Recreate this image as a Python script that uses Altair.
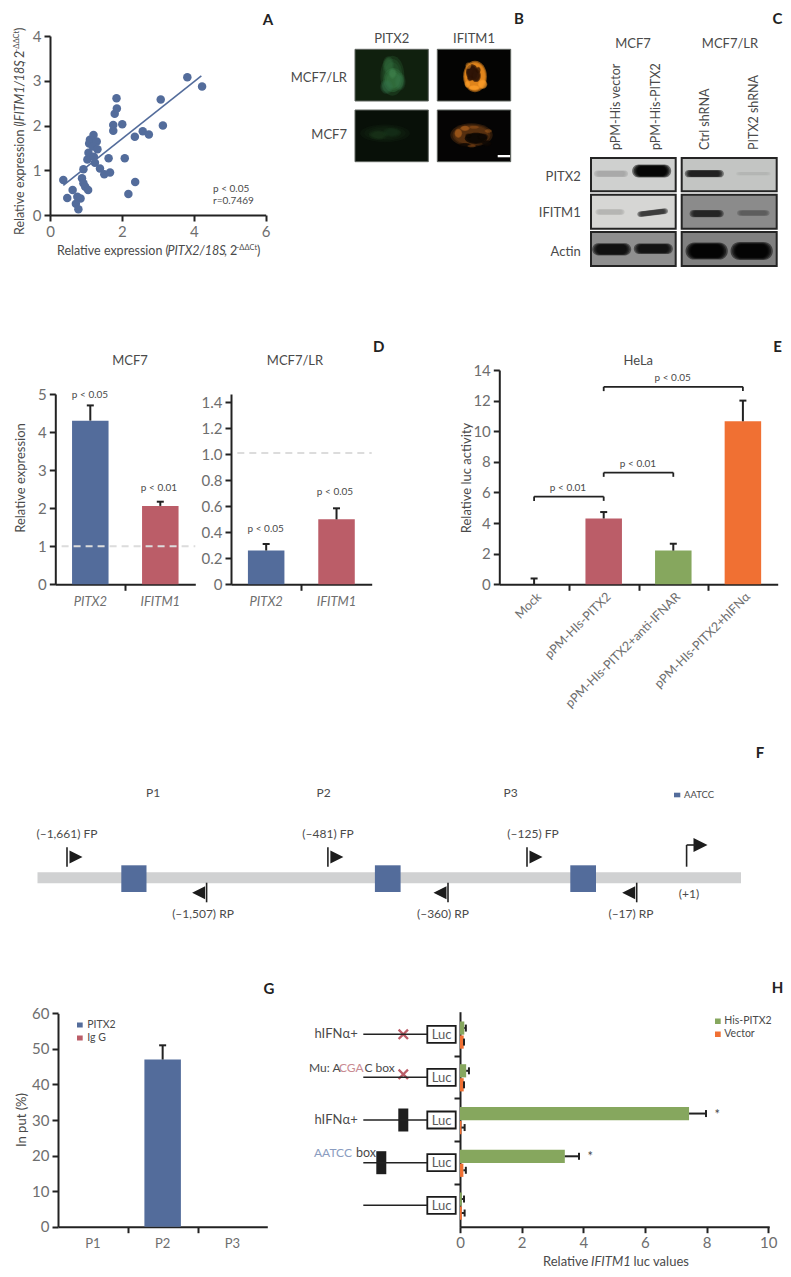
import altair as alt
import pandas as pd

# ---------- values ----------
A_X = [.37,.48,.63,.76,.85,.72,.79,.89,.93,.98,1.06,.93,1.04,1.07,1.11,1.09,1.21,1.30,1.19,1.32,1.22,1.25,1.39,1.51,1.67,1.63,1.76,1.76,1.80,1.86,1.85,2.01,2.08,2.18,2.37,2.36,2.58,2.75,3.08,3.14,3.82,4.23]
A_Y = [.78,.38,.56,.41,.37,.25,.13,.82,.71,.63,.56,1.02,1.24,1.39,1.68,1.60,1.79,1.64,1.53,1.47,1.30,1.17,1.04,.91,.95,1.27,1.88,2.01,2.26,2.38,2.61,2.03,1.27,.47,.74,1.75,1.87,1.80,2.58,2.00,3.08,2.87]
A_FIT_X = [.37, 4.21]
A_FIT_Y = [.66, 3.11]

D_CATS = ["PITX2", "IFITM1"]
D1_VAL = [4.3, 2.06]
D1_ERR = [4.7, 2.17]
D2_VAL = [.26, .50]
D2_ERR = [.31, .585]

E_CATS = ["Mock", "pPM-HIs-PITX2", "pPM-HIs-PITX2+anti-IFNAR", "pPM-HIs-PITX2+hIFNα"]
E_VAL = [0, 4.3, 2.2, 10.65]
E_ERR = [.38, 4.72, 2.65, 12.0]

G_CATS = ["P1", "P2", "P3"]
G_VAL = [0, 47, 0]
G_ERR = [0, 51, 0]

H_ROWS = ["r1", "r2", "r3", "r4", "r5"]
H_GREEN = [.14, .2, 7.43, 3.4, .06]
H_GREEN_ERR = [.19, .29, 7.98, 3.86, .13]
H_ORANGE = [.12, .12, .05, .11, .06]
H_ORANGE_ERR = [.13, .13, .15, .19, .15]

# ---------- style ----------
FONT = "Lato, Roboto, sans-serif"
INK = "#222222"
TXT = "#4a4a4a"
LABEL = "#6e6e6e"
BLUE = "#536c9b"
RED = "#bb5d68"
GREEN = "#86a75e"
ORANGE = "#f07033"
W, H = 775, 1261

layers = []

def qs(dom, rng, **kw):
    return alt.Scale(domain=dom, range=[r - 8 for r in rng], nice=False, **kw)

def bs(cats, rng, barw):
    step = abs(rng[1] - rng[0]) / len(cats)
    pi = 1 - barw / step
    return alt.Scale(type="band", domain=cats, range=[r - 8 for r in rng], paddingInner=pi, paddingOuter=pi / 2)

AX = dict(domainWidth=2, domainColor=INK, tickWidth=2, tickColor=INK, tickSize=6, labelColor=LABEL,
          labelFont=FONT, labelFontSize=15, labelPadding=3, grid=False, title=None, labelFlush=False)

def left_axis(x0, vals, **kw):
    opts = {**AX, **kw}
    return alt.Axis(orient="left", offset=-(x0 - 8), values=vals, **opts)

def bottom_axis(y0, vals, **kw):
    opts = {**AX, **kw}
    return alt.Axis(orient="bottom", offset=(y0 - 8) - H, values=vals, **opts)

def frame(xdom, xrng, ydom, yrng, xvals, yvals, xkw=None, ykw=None):
    df = pd.DataFrame({"a": [xdom[0]], "b": [ydom[0]]})
    xkw = xkw or {}
    ykw = ykw or {}
    layers.append(alt.Chart(df).mark_point(opacity=0).encode(
        x=alt.X("a:Q", scale=qs(xdom, xrng), axis=bottom_axis(yrng[0], xvals, **xkw)),
        y=alt.Y("b:Q", scale=qs(ydom, yrng), axis=left_axis(xrng[0], yvals, **ykw)),
    ))

def bars(cats, vals, errs, colors, xrng, yrng, ydom, barw, label_kw):
    df = pd.DataFrame({"c": cats, "v": vals, "e": errs, "col": colors})
    xs = bs(cats, xrng, barw)
    ys = qs(ydom, yrng)
    axis = bottom_axis(yrng[0], cats, ticks=False, domain=False, **label_kw)
    layers.append(alt.Chart(df).mark_bar().encode(
        x=alt.X("c:N", scale=xs, axis=axis),
        y=alt.Y("v:Q", scale=ys, axis=None, stack=None),
        color=alt.Color("col:N", scale=None),
    ))
    d2 = df[df["e"] > df["v"]]
    layers.append(alt.Chart(d2).mark_rule(color=INK, strokeWidth=2).encode(
        x=alt.X("c:N", scale=xs, axis=None),
        y=alt.Y("v:Q", scale=ys, axis=None),
        y2="e:Q",
    ))
    layers.append(alt.Chart(d2).mark_tick(color=INK, thickness=2, size=7, orient="horizontal", opacity=1).encode(
        x=alt.X("c:N", scale=xs, axis=None),
        y=alt.Y("e:Q", scale=ys, axis=None),
    ))

def dashed(value, x_from, xdom, xrng, ydom, yrng):
    df = pd.DataFrame({"a": [x_from], "a2": [xdom[1]], "b": [value]})
    layers.append(alt.Chart(df).mark_rule(color="#dcdcdc", strokeWidth=2, strokeDash=[7, 5]).encode(
        x=alt.X("a:Q", scale=qs(xdom, xrng), axis=None),
        x2="a2:Q",
        y=alt.Y("b:Q", scale=qs(ydom, yrng), axis=None),
    ))

# ---------- picture-space helpers for the images and diagrams ----------
CX = alt.Scale(domain=[8, 8 + W], range=[0, W], nice=False)
CY = alt.Scale(domain=[8, 8 + H], range=[0, H], nice=False)
RECTS, OUTLINES, RULES, SYMS, TEXTS = [], [], [], [], []

def rect(x0, x1, y0, y1, c):
    RECTS.append(dict(x=x0, x2=x1, y=y0, y2=y1, c=c))

def outline(x0, x1, y0, y1, c, w):
    OUTLINES.append(dict(x=x0, x2=x1, y=y0, y2=y1, c=c, w=w))

def rule(x0, x1, y0, y1, c=INK, w=1.6):
    RULES.append(dict(x=x0, x2=x1, y=y0, y2=y1, c=c, w=w))

def sym(x, y, path, size, c, op=1.0, ang=0):
    SYMS.append(dict(x=x, y=y, p=path, s=size, c=c, o=op, a=ang % 360))

def ell_path(b):
    return f"M-1,0 A1,{b:.3f} 0 1 1 1,0 A1,{b:.3f} 0 1 1 -1,0 Z"

def stad_path(b):
    c = 1 - b
    return f"M{-c:.3f},{-b:.3f} L{c:.3f},{-b:.3f} A{b:.3f},{b:.3f} 0 0 1 {c:.3f},{b:.3f} L{-c:.3f},{b:.3f} A{b:.3f},{b:.3f} 0 0 1 {-c:.3f},{-b:.3f} Z"

def blur(cx, cy, rx, ry, c, ang=0, stad=False, levels=(1.3, 1.16, 1.02, .9, .78), op=.38):
    for t in levels:
        r = rx * t
        q = ry * t
        if ry <= rx:
            path = stad_path(q / r) if stad else ell_path(q / r)
            size = (2 * r) ** 2
        else:
            path = f"M0,-1 A{r / q:.3f},1 0 1 1 0,1 A{r / q:.3f},1 0 1 1 0,-1 Z"
            size = (2 * q) ** 2
        sym(cx, cy, path, size, c, op, ang)

def txt(x, y, t, size=12, c=TXT, align="center", angle=0, italic=False, bold=False):
    TEXTS.append(dict(x=x, y=y, t=t, s=size, c=c, al=align, a=angle, it=italic, b=bold))

def segs(x, y, parts, vertical=False, c=TXT):
    """parts: (offset along the reading direction, text, size, italic, shift)"""
    for off, t, size, it, up in parts:
        if vertical:
            txt(x - up, y - off, t, size, c, "left", 270, it)
        else:
            txt(x + off, y - up, t, size, c, "left", 0, it)

# ---------- A ----------
A_XD, A_XR, A_YD, A_YR = [0, 6], [50, 265.7], [0, 4], [215, 36]
frame(A_XD, A_XR, A_YD, A_YR, [0, 2, 4, 6], [0, 1, 2, 3, 4])
layers.append(alt.Chart(pd.DataFrame({"x": A_X, "y": A_Y})).mark_circle(size=72, color=BLUE, opacity=1).encode(
    x=alt.X("x:Q", scale=qs(A_XD, A_XR), axis=None),
    y=alt.Y("y:Q", scale=qs(A_YD, A_YR), axis=None),
))
layers.append(alt.Chart(pd.DataFrame({"x": A_FIT_X, "y": A_FIT_Y})).mark_line(color=BLUE, strokeWidth=1.6).encode(
    x=alt.X("x:Q", scale=qs(A_XD, A_XR), axis=None),
    y=alt.Y("y:Q", scale=qs(A_YD, A_YR), axis=None),
))
LBL_A = [(0, "Relative expression (", 12.5, False, 0), (110.5, "PITX2/18S", 12.5, True, 0), (167, ", 2", 12.5, False, 0),
         (178, "−ΔΔCt", 7.5, False, 3), (200, ")", 12.5, False, 0)]
segs(57, 251, LBL_A)
LBL_AY = [(0, "Relative expression (", 12.5, False, 0), (110.5, "IFITM1/18S", 12.5, True, 0), (171, ", 2", 12.5, False, 0),
          (182, "−ΔΔCt", 7.5, False, 3), (204, ")", 12.5, False, 0)]
segs(20, 235, LBL_AY, vertical=True)
txt(213, 189, "p < 0.05", 10, TXT, "left")
txt(213, 201, "r=0.7469", 10, TXT, "left")
txt(268, 20, "A", 15, INK, bold=True)

# ---------- B ----------
txt(519, 19, "B", 15, INK, bold=True)
txt(391.7, 39, "PITX2", 13)
txt(474, 39, "IFITM1", 13)
txt(347, 77.7, "MCF7/LR", 13, TXT, "right")
txt(347, 135, "MCF7", 13, TXT, "right")
rect(355, 428.3, 49.3, 101, "#10200e")
rect(355, 428.3, 110, 161.7, "#081008")
rect(437.3, 510.7, 49.3, 101, "#040403")
rect(437.3, 510.7, 110, 161.7, "#050404")
# fluorescence patches, (x, y, rx, ry, colour, strength) in a 3x crop of the panel block
B_SPOTS = [(127, 92, 30, 50, "#2a6335", .3), (115, 60, 14, 22, "#32703e", .25), (130, 105, 25, 30, "#3f8a4e", .22),
           (110, 125, 16, 18, "#33734a", .25), (150, 110, 14, 22, "#37794a", .2), (128, 85, 10, 14, "#4a9058", .18),
           (105, 265, 62, 22, "#183419", .2), (85, 270, 24, 12, "#1f4022", .18), (125, 262, 24, 12, "#1d3c20", .18)]
for zx, zy, zrx, zry, col, o in B_SPOTS:
    blur(350 + zx / 3, 45 + zy / 3, zrx / 3, zry / 3, col, levels=(1.2, 1.0, .8), op=o)
blur(475, 76.5, 11, 14.5, "#ea8a1e", levels=(1.08, 1.0, .94, .88), op=.55)
for zx, zy, zrx, zry, o in [(366, 82, 15, 20, .8), (378, 92, 12, 16, .65), (360, 100, 7, 7, .45), (385, 75, 6, 8, .4)]:
    blur(350 + zx / 3, 45 + zy / 3, zrx / 3, zry / 3, "#2e1406", levels=(1.2, 1.0, .85), op=o)
for zx, zy, zrx, zry, o in [(398, 118, 12, 12, .5), (372, 128, 14, 6, .5), (352, 118, 7, 9, .4), (355, 62, 8, 9, .25)]:
    blur(350 + zx / 3, 45 + zy / 3, zrx / 3, zry / 3, "#ffa02a", levels=(1.15, .95), op=o)
blur(471.5, 135, 19, 10.5, "#7c4516", levels=(1.12, 1.0, .9), op=.32)
for zx, zy, zrx, zry, o in [(378, 280, 28, 14, .85), (398, 275, 14, 8, .5), (355, 272, 8, 6, .35), (345, 300, 16, 5, .5), (410, 295, 12, 8, .5)]:
    blur(350 + zx / 3, 45 + zy / 3, zrx / 3, zry / 3, "#0e0804", levels=(1.2, 1.0, .85), op=o)
for zx, zy, zrx, zry, o in [(325, 265, 10, 12, .4), (345, 250, 12, 7, .4), (372, 247, 14, 4, .2), (415, 258, 10, 5, .25), (365, 303, 12, 4, .2)]:
    blur(350 + zx / 3, 45 + zy / 3, zrx / 3, zry / 3, "#b8661e", levels=(1.15, .95), op=o)
rect(497.7, 510.3, 155, 157.3, "#ffffff")
for bx in [(355, 428.3), (437.3, 510.7)]:
    for by in [(49.3, 101), (110, 161.7)]:
        outline(bx[0], bx[1], by[0], by[1], "#5f655f", 1)

# ---------- C ----------
txt(777.5, 19, "C", 15, INK, bold=True)
txt(633, 44, "MCF7", 13)
txt(730, 44, "MCF7/LR", 13)
for lx, lab in [(616, "pPM-His vector"), (656, "pPM-His-PITX2"), (705, "Ctrl shRNA"), (754, "PITX2 shRNA")]:
    txt(lx, 150, lab, 12.5, TXT, "left", 270)
for ly, lab in [(176.7, "PITX2"), (213, "IFITM1"), (251.7, "Actin")]:
    txt(580.7, ly, lab, 13, TXT, "right")
BLOT_COLS = [(591, 675.7), (681.7, 776.7)]
BLOT_ROWS = [(158, 191.3), (194.7, 228.7), (232, 266)]
BLOT_BG = [["#cfd0cf", "#c3c5c3"], ["#d6d6d4", "#8b8b8b"], ["#8f8f8f", "#808080"]]
for i, by in enumerate(BLOT_ROWS):
    for j, bx in enumerate(BLOT_COLS):
        rect(bx[0], bx[1], by[0], by[1], BLOT_BG[i][j])
BLOT_BANDS = [(78, 65, 42, 8, "#a8a8a8", 0), (200, 57, 48, 16, "#000000", 0),
              (358, 65, 48, 9, "#1c1c1c", 0), (505, 65, 42, 4, "#b4b6b4", 0),
              (75, 180, 36, 7, "#b4b4b2", 0), (203, 182, 38, 7, "#383838", -7),
              (365, 185, 42, 9, "#222222", 0), (505, 183, 40, 7, "#5c5c5c", 0),
              (80, 292, 48, 15, "#0c0c0c", 0), (205, 290, 48, 13, "#101010", 0),
              (365, 297, 52, 21, "#000000", 0), (500, 297, 52, 22, "#000000", 0)]
for zx, zy, zrx, zry, col, ang in BLOT_BANDS:
    blur(585 + zx / 3, 152 + zy / 3, zrx / 3, zry / 3, col, ang, stad=True, levels=(1.22, 1.12, 1.03, .96, .9), op=.5)
for by in BLOT_ROWS:
    for bx in BLOT_COLS:
        outline(bx[0], bx[1], by[0], by[1], "#242424", 2)

# ---------- D ----------
txt(130, 360.7, "MCF7", 13)
txt(295, 360.7, "MCF7/LR", 13)
txt(20.7, 478, "Relative expression", 13, TXT, "center", 270)
txt(378.7, 346.7, "D", 15, INK, bold=True)
D1_XD, D1_XR, D1_YD, D1_YR = [0, 2], [55.3, 195.3], [0, 5], [584.3, 394]
frame(D1_XD, D1_XR, D1_YD, D1_YR, [1], [0, 1, 2, 3, 4, 5], xkw=dict(labels=False))
bars(D_CATS, D1_VAL, D1_ERR, [BLUE, RED], D1_XR, D1_YR, D1_YD, 36.5,
     dict(labelFontStyle="italic", labelFontSize=13, labelPadding=11, labelAngle=0))
dashed(1, .09, D1_XD, D1_XR, D1_YD, D1_YR)
txt(90, 394.7, "p < 0.05", 10)
txt(159, 488, "p < 0.01", 10)
D2_XD, D2_XR, D2_YD, D2_YR = [0, 2], [231, 371.7], [0, 1.465], [584.3, 394]
frame(D2_XD, D2_XR, D2_YD, D2_YR, [1], [0, .2, .4, .6, .8, 1.0, 1.2, 1.4], xkw=dict(labels=False),
      ykw=dict(labelExpr="datum.value == 0 ? '0' : format(datum.value, '.1f')"))
bars(D_CATS, D2_VAL, D2_ERR, [BLUE, RED], D2_XR, D2_YR, D2_YD, 36.5,
     dict(labelFontStyle="italic", labelFontSize=13, labelPadding=11, labelAngle=0))
dashed(1.01, .09, D2_XD, D2_XR, D2_YD, D2_YR)
txt(265.7, 529, "p < 0.05", 10)
txt(335, 492, "p < 0.05", 10)

# ---------- E ----------
txt(638.3, 360.7, "HeLa", 13)
txt(466.7, 478, "Relative luc activity", 13, TXT, "center", 270)
txt(777.5, 346.7, "E", 15, INK, bold=True)
E_XD, E_XR, E_YD, E_YR = [0, 4], [499.3, 777.7], [0, 14], [584.3, 370]
frame(E_XD, E_XR, E_YD, E_YR, [1, 2, 3], [0, 2, 4, 6, 8, 10, 12, 14], xkw=dict(labels=False))
bars(E_CATS, E_VAL, E_ERR, ["#ffffff", RED, GREEN, ORANGE], E_XR, E_YR, E_YD, 36.5,
     dict(labelFontSize=12.5, labelPadding=10, labelAngle=315, labelAlign="right", labelBaseline="middle", labelOffset=5))
BR_FROM = [.5, 1.5, 1.5]
BR_TO = [1.5, 2.5, 3.5]
BR_Y = [5.73, 7.3, 12.9]
BR_DROP = [.28, .28, .28]
BR_LAB = ["p < 0.01", "p < 0.01", "p < 0.05"]
brk = pd.DataFrame({"a": BR_FROM, "b": BR_TO, "y": BR_Y, "y0": [v - d for v, d in zip(BR_Y, BR_DROP)]})
layers.append(alt.Chart(brk).mark_rule(color=INK, strokeWidth=1.8).encode(
    x=alt.X("a:Q", scale=qs(E_XD, E_XR), axis=None), x2="b:Q",
    y=alt.Y("y:Q", scale=qs(E_YD, E_YR), axis=None)))
layers.append(alt.Chart(brk).mark_rule(color=INK, strokeWidth=1.8).encode(
    x=alt.X("a:Q", scale=qs(E_XD, E_XR), axis=None),
    y=alt.Y("y:Q", scale=qs(E_YD, E_YR), axis=None), y2="y0:Q"))
layers.append(alt.Chart(brk).mark_rule(color=INK, strokeWidth=1.8).encode(
    x=alt.X("b:Q", scale=qs(E_XD, E_XR), axis=None),
    y=alt.Y("y:Q", scale=qs(E_YD, E_YR), axis=None), y2="y0:Q"))
txt(568, 488, BR_LAB[0], 10)
txt(638, 464, BR_LAB[1], 10)
txt(672.7, 378, BR_LAB[2], 10)

# ---------- F ----------
txt(760, 753, "F", 15, INK, bold=True)
for px, lab in [(153, "P1"), (323.5, "P2"), (510.6, "P3")]:
    txt(px, 793, lab, 12)
rect(674, 680.3, 792.7, 797.3, BLUE)
txt(684, 795, "AATCC", 9.5, TXT, "left")
rect(37.5, 741, 872.3, 883.3, "#d0d1d2")
for bx0, bx1 in [(121.3, 146.5), (374.9, 400.6), (570.3, 596)]:
    rect(bx0, bx1, 865.3, 892, BLUE)
TRI_R = "M-1,-1 L1,0 L-1,1 Z"
TRI_L = "M1,-1 L-1,0 L1,1 Z"
for sx, lab, lx in [(67, "(–1,661) FP", 67), (327.9, "(–481) FP", 328), (527, "(–125) FP", 533)]:
    rule(sx, sx, 847.3, 866.7, INK, 1.6)
    sym(sx + 9, 857, TRI_R, 13 ** 2, "#1c1c1c")
    txt(lx, 834.3, lab, 12)
for sx, lab, lx in [(206.6, "(–1,507) RP", 203), (448, "(–360) RP", 443), (636.7, "(–17) RP", 631)]:
    rule(sx, sx, 882.7, 902.3, INK, 1.6)
    sym(sx - 8, 892.7, TRI_L, 13 ** 2, "#1c1c1c")
    txt(lx, 913.7, lab, 12)
txt(689, 894, "(+1)", 12)
rule(686.6, 686.6, 845, 866.7, INK, 1.6)
rule(686.6, 696, 845, 845, INK, 1.6)
sym(700.5, 845, TRI_R, 14 ** 2, "#1c1c1c")

# ---------- G ----------
txt(269, 989, "G", 15, INK, bold=True)
G_XD, G_XR, G_YD, G_YR = [0, 3], [58, 267.3], [0, 60], [1226.7, 1013.3]
frame(G_XD, G_XR, G_YD, G_YR, [1, 2], [0, 10, 20, 30, 40, 50, 60], xkw=dict(labels=False))
bars(G_CATS, G_VAL, G_ERR, [BLUE, BLUE, BLUE], G_XR, G_YR, G_YD, 36.5,
     dict(labelFontSize=13, labelPadding=11, labelAngle=0))
txt(21.7, 1120, "In put (%)", 13, TXT, "center", 270)
rect(77, 82.7, 1022.5, 1027.5, BLUE)
rect(77, 82.7, 1035.5, 1040.5, RED)
txt(87.3, 1025, "PITX2", 10.5, TXT, "left")
txt(87.3, 1038, "Ig G", 10.5, TXT, "left")

# ---------- H ----------
txt(777.5, 988, "H", 15, INK, bold=True)
H_XD, H_XR, H_YD, H_YR = [0, 10.03], [460, 769.2], [0, 5.03], [1226.7, 1011.7]
frame(H_XD, H_XR, H_YD, H_YR, [0, 2, 4, 6, 8, 10], [1, 2, 3, 4], ykw=dict(labels=False))
for vals, errs, col, shift in [(H_GREEN, H_GREEN_ERR, GREEN, -6.3), (H_ORANGE, H_ORANGE_ERR, ORANGE, 7.7)]:
    df = pd.DataFrame({"r": H_ROWS, "v": vals, "e": errs})
    ys = bs(H_ROWS, [1013 + shift, 1226.7 + shift], 13.2)
    xs = qs(H_XD, H_XR)
    layers.append(alt.Chart(df).mark_bar(color=col).encode(
        x=alt.X("v:Q", scale=xs, axis=None, stack=None),
        y=alt.Y("r:N", scale=ys, axis=None)))
    layers.append(alt.Chart(df).mark_rule(color=INK, strokeWidth=2).encode(
        x=alt.X("v:Q", scale=xs, axis=None), x2="e:Q",
        y=alt.Y("r:N", scale=ys, axis=None)))
    layers.append(alt.Chart(df).mark_tick(color=INK, thickness=2, size=7, orient="vertical", opacity=1).encode(
        x=alt.X("e:Q", scale=xs, axis=None),
        y=alt.Y("r:N", scale=ys, axis=None)))
txt(717.3, 1114.5, "*", 13)
txt(590.3, 1157, "*", 13)
rect(715, 720.7, 1018.5, 1024, GREEN)
rect(715, 720.7, 1031.5, 1037, ORANGE)
txt(724.3, 1021.3, "His-PITX2", 10.5, TXT, "left")
txt(724.3, 1034.3, "Vector", 10.5, TXT, "left")
segs(543, 1261.7, [(0, "Relative ", 13, False, 0), (48, "IFITM1", 13, True, 0), (90.5, "luc values", 13, False, 0)])
ROW_Y = [1034.3, 1077.3, 1120, 1162.7, 1205.3]
for ry in ROW_Y:
    rule(363.3, 427.3, ry, ry, INK, 1.6)
    rect(427.3, 455.7, ry - 8.5, ry + 8.5, "#ffffff")
    outline(427.3, 455.7, ry - 8.5, ry + 8.5, "#1a1a1a", 1.8)
    txt(441.5, ry + .5, "Luc", 13, "#5a5a5a")
rect(398.3, 408.3, 1108.5, 1131.5, "#1e1e1e")
rect(376.3, 386.3, 1151.2, 1174.2, "#1e1e1e")
CROSS = "M-1,-.7 L-.7,-1 L0,-.3 L.7,-1 L1,-.7 L.3,0 L1,.7 L.7,1 L0,.3 L-.7,1 L-1,.7 L-.3,0 Z"
sym(403.3, 1034.3, CROSS, 11 ** 2, RED)
sym(403.3, 1074.3, CROSS, 11 ** 2, RED)
txt(357.7, 1034, "hIFNα+", 13, TXT, "right")
txt(357.7, 1120, "hIFNα+", 13, TXT, "right")
txt(309, 1068, "Mu: A", 12, TXT, "left")
txt(339, 1068, "CGA", 12, "#c98a92", "left")
txt(364.5, 1068, "C box", 12, TXT, "left")
txt(314, 1153.3, "AATCC", 12, "#8a9cc0", "left")
txt(356, 1153.3, "box", 12.5, TXT, "left")

# ---------- picture-space layers ----------
def xy():
    return dict(x=alt.X("x:Q", scale=CX, axis=None), y=alt.Y("y:Q", scale=CY, axis=None))

deco = []
deco.append(alt.Chart(pd.DataFrame(RECTS)).mark_rect().encode(
    **xy(), x2="x2:Q", y2="y2:Q", color=alt.Color("c:N", scale=None)))
deco.append(alt.Chart(pd.DataFrame(SYMS)).mark_point(filled=True, strokeWidth=0).encode(
    **xy(), shape=alt.Shape("p:N", scale=None), size=alt.Size("s:Q", scale=None),
    color=alt.Color("c:N", scale=None), opacity=alt.Opacity("o:Q", scale=None), angle=alt.Angle("a:Q", scale=None)))
deco.append(alt.Chart(pd.DataFrame(OUTLINES)).mark_rect(fillOpacity=0).encode(
    **xy(), x2="x2:Q", y2="y2:Q", stroke=alt.Stroke("c:N", scale=None), strokeWidth=alt.StrokeWidth("w:Q", scale=None)))
deco.append(alt.Chart(pd.DataFrame(RULES)).mark_rule().encode(
    **xy(), x2="x2:Q", y2="y2:Q", color=alt.Color("c:N", scale=None), strokeWidth=alt.StrokeWidth("w:Q", scale=None)))

tdf = pd.DataFrame(TEXTS)
for (al, it, b), g in tdf.groupby(["al", "it", "b"]):
    deco.append(alt.Chart(g.drop(columns=["al", "it", "b"])).mark_text(
        align=al, baseline="middle", font=FONT, fontStyle="italic" if it else "normal",
        fontWeight="bold" if b else "normal").encode(
        **xy(), text="t:N", size=alt.Size("s:Q", scale=None), color=alt.Color("c:N", scale=None),
        angle=alt.Angle("a:Q", scale=None)))

chart = alt.layer(*(deco[:4] + layers + deco[4:])).resolve_scale(
    x="independent", y="independent"
).properties(
    width=W, height=H, padding=0, background="white",
    autosize=alt.AutoSizeParams(type="none"),
).configure_view(stroke=None)

chart.save("out.html", embed_options={"renderer": "svg", "actions": False})
